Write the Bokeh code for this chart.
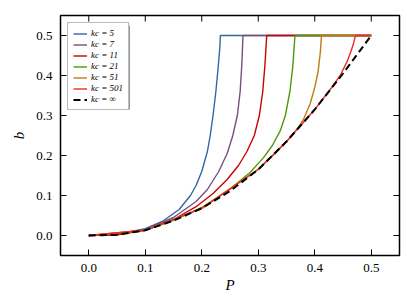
from bokeh.plotting import figure
from bokeh.models import (Range1d, FixedTicker, Legend, LegendItem, BoxAnnotation)
from bokeh.embed import file_html
from bokeh.resources import INLINE

# ---- data ----
P_k5 = [0, 0.05, 0.1, 0.13, 0.16, 0.18, 0.19, 0.2, 0.21, 0.215, 0.22, 0.225, 0.229, 0.232, 0.233, 0.5]
b_k5 = [0, 0.003, 0.017, 0.035, 0.065, 0.1, 0.125, 0.16, 0.21, 0.25, 0.3, 0.36, 0.42, 0.47, 0.5, 0.5]

P_k7 = [0, 0.05, 0.1, 0.15, 0.19, 0.21, 0.23, 0.245, 0.255, 0.263, 0.268, 0.271, 0.273, 0.5]
b_k7 = [0, 0.002, 0.015, 0.045, 0.085, 0.115, 0.16, 0.205, 0.25, 0.3, 0.36, 0.43, 0.5, 0.5]

P_k11 = [0, 0.05, 0.1, 0.15, 0.19, 0.22, 0.245, 0.265, 0.28, 0.293, 0.302, 0.308, 0.312, 0.315, 0.5]
b_k11 = [0, 0.002, 0.013, 0.04, 0.072, 0.105, 0.14, 0.175, 0.21, 0.25, 0.3, 0.36, 0.43, 0.5, 0.5]

P_k21 = [0, 0.1, 0.15, 0.2, 0.25, 0.285, 0.309, 0.325, 0.339, 0.348, 0.356, 0.361, 0.365, 0.5]
b_k21 = [0, 0.013, 0.038, 0.07, 0.116, 0.157, 0.194, 0.225, 0.262, 0.3, 0.36, 0.42, 0.5, 0.5]

P_k51 = [0, 0.1, 0.2, 0.3, 0.33, 0.351, 0.37, 0.38, 0.392, 0.4, 0.406, 0.41, 0.412, 0.5]
b_k51 = [0, 0.013, 0.068, 0.166, 0.205, 0.236, 0.268, 0.29, 0.33, 0.37, 0.41, 0.46, 0.5, 0.5]

P_k501 = [0, 0.1, 0.2, 0.3, 0.35, 0.4, 0.43, 0.445, 0.457, 0.464, 0.469, 0.472, 0.5]
b_k501 = [0, 0.013, 0.068, 0.165, 0.235, 0.315, 0.37, 0.4, 0.434, 0.46, 0.482, 0.5, 0.5]

P_inf = [0, 0.05, 0.1, 0.15, 0.2, 0.25, 0.3, 0.35, 0.4, 0.45, 0.5]
b_inf = [0, 0.002, 0.013, 0.037, 0.068, 0.111, 0.165, 0.235, 0.315, 0.405, 0.5]

labels = ["kc = 5", "kc = 7", "kc = 11", "kc = 21", "kc = 51", "kc = 501", "kc = \u221e"]
colors = ["#3465a4", "#75507b", "#cc0000", "#4e9a06", "#c17d11", "#ef2929"]

x_ticks = [0.0, 0.1, 0.2, 0.3, 0.4, 0.5]
x_tick_labels = ["0.0", "0.1", "0.2", "0.3", "0.4", "0.5"]
y_ticks = [0.0, 0.1, 0.2, 0.3, 0.4, 0.5]
y_tick_labels = ["0.0", "0.1", "0.2", "0.3", "0.4", "0.5"]

FONT = "Liberation Serif"
X0, X1, Y0, Y1 = -0.05, 0.55, -0.05, 0.55

p = figure(width=401, height=300, output_backend="svg", toolbar_location=None,
           x_range=Range1d(X0, X1), y_range=Range1d(Y0, Y1),
           min_border_left=60, min_border_right=2, min_border_top=15,
           min_border_bottom=45, x_axis_label="P", y_axis_label="b")
p.grid.visible = False
p.outline_line_color = "black"
p.outline_line_width = 1.5
p.background_fill_color = "white"
p.border_fill_color = "white"

def style_axis(ax, ticks, labs):
    ax.ticker = FixedTicker(ticks=ticks)
    ax.major_label_overrides = {t: l for t, l in zip(ticks, labs)}
    ax.axis_line_color = None
    ax.major_tick_in = 6
    ax.major_tick_out = 0
    ax.major_tick_line_color = "black"
    ax.major_tick_line_width = 1
    ax.minor_tick_line_color = None
    ax.major_label_text_font = FONT
    ax.major_label_text_font_size = "13px"
    ax.major_label_text_color = "black"
    ax.major_label_standoff = 8
    ax.axis_label_text_font = FONT
    ax.axis_label_text_font_style = "italic"
    ax.axis_label_text_font_size = "15px"
    ax.axis_label_text_color = "black"

style_axis(p.xaxis[0], x_ticks, x_tick_labels)
style_axis(p.yaxis[0], y_ticks, y_tick_labels)
p.xaxis[0].axis_label_standoff = 2
p.yaxis[0].axis_label_standoff = 6

# mirrored inward ticks on the top and right edges of the frame
tx = (X1 - X0) / 339 * 6
ty = (Y1 - Y0) / 240 * 6
p.segment(x0=x_ticks, y0=[Y1] * len(x_ticks), x1=x_ticks, y1=[Y1 - ty] * len(x_ticks),
          line_color="black", line_width=1)
p.segment(x0=[X1] * len(y_ticks), y0=y_ticks, x1=[X1 - tx] * len(y_ticks), y1=y_ticks,
          line_color="black", line_width=1)

series = [(P_k5, b_k5), (P_k7, b_k7), (P_k11, b_k11), (P_k21, b_k21),
          (P_k51, b_k51), (P_k501, b_k501)]
renderers = []
for (xs, ys), c in zip(series, colors):
    renderers.append(p.line(xs, ys, line_color=c, line_width=1.4))
renderers.append(p.line(P_inf, b_inf, line_color="black", line_width=2, line_dash="7 4"))

# legend shadow (screen units relative to the frame's lower-left corner)
shadow = BoxAnnotation(left=10, right=69, top=230, bottom=146,
                       left_units="screen", right_units="screen",
                       top_units="screen", bottom_units="screen",
                       fill_color="#333333", fill_alpha=1, line_color=None)
p.add_layout(shadow)

items = [LegendItem(label=l, renderers=[r]) for l, r in zip(labels, renderers)]
lg = Legend(items=items, location="top_left", margin=7)
lg.label_text_font = FONT
lg.label_text_font_style = "italic"
lg.label_text_font_size = "9px"
lg.glyph_width = 14
lg.glyph_height = 9
lg.label_height = 9
lg.label_standoff = 4
lg.spacing = 1
lg.padding = 5
lg.border_line_width = 1.5
lg.border_line_color = "#777777"
lg.background_fill_color = "white"
lg.background_fill_alpha = 1
lg.label_text_color = "black"
p.add_layout(lg)

open("out.html", "w").write(file_html(p, INLINE))
